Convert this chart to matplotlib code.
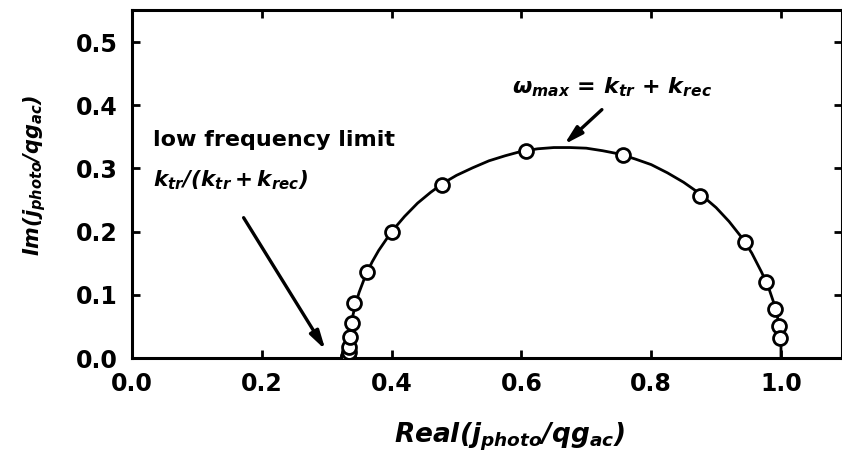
import matplotlib
matplotlib.use("Agg")
import matplotlib.pyplot as plt

# measured data points (Real, Imag)
real_pts = [0.333, 0.333, 0.334, 0.334, 0.336, 0.339, 0.342, 0.362, 0.400, 0.478,
            0.607, 0.756, 0.875, 0.944, 0.977, 0.991, 0.997, 0.999]
imag_pts = [0.001, 0.003, 0.009, 0.018, 0.034, 0.056, 0.087, 0.136, 0.199, 0.273,
            0.328, 0.321, 0.257, 0.184, 0.121, 0.078, 0.050, 0.032]

# fitted line
curve_x = [0.333, 0.334, 0.335, 0.337, 0.340, 0.345, 0.350, 0.360, 0.370, 0.380,
           0.400, 0.420, 0.440, 0.460, 0.480, 0.500, 0.525, 0.550, 0.575, 0.600,
           0.625, 0.650, 0.675, 0.700, 0.725, 0.750, 0.775, 0.800, 0.825, 0.850,
           0.875, 0.900, 0.920, 0.940, 0.955, 0.970, 0.980, 0.988, 0.994, 0.998,
           1.000, 1.000]
curve_y = [0.000, 0.021, 0.033, 0.047, 0.066, 0.087, 0.104, 0.131, 0.152, 0.170,
           0.200, 0.224, 0.245, 0.262, 0.277, 0.289, 0.301, 0.312, 0.320, 0.327,
           0.331, 0.333, 0.333, 0.332, 0.328, 0.323, 0.315, 0.306, 0.293, 0.278,
           0.260, 0.238, 0.216, 0.190, 0.166, 0.136, 0.114, 0.090, 0.068, 0.045,
           0.030, 0.000]

xticks = [0.0, 0.2, 0.4, 0.6, 0.8, 1.0]
yticks = [0.0, 0.1, 0.2, 0.3, 0.4, 0.5]

plt.rcParams['font.family'] = ['DejaVu Sans']
plt.rcParams['mathtext.fontset'] = 'custom'
plt.rcParams['mathtext.rm'] = 'DejaVu Sans:italic'
plt.rcParams['mathtext.it'] = 'DejaVu Sans:italic'
plt.rcParams['mathtext.bf'] = 'DejaVu Sans:bold:italic'

fig = plt.figure(figsize=(8.42, 4.63), dpi=100)
ax = fig.add_axes([132/842, 105/463, 710/842, 347.6/463])

ax.plot(curve_x, curve_y, color='black', lw=2.0, zorder=2)
ax.plot(real_pts, imag_pts, linestyle='none', marker='o', markersize=10,
        markerfacecolor='white', markeredgecolor='black', markeredgewidth=2.0, zorder=3)

ax.set_xlim(0, 1.094)
ax.set_ylim(0, 0.55)
ax.set_xticks(xticks)
ax.set_yticks(yticks)
ax.set_xticklabels([f"{t:.1f}" for t in xticks], fontsize=17, fontweight='bold')
ax.set_yticklabels([f"{t:.1f}" for t in yticks], fontsize=17, fontweight='bold')
ax.tick_params(direction='in', length=6, width=2, top=True, right=True, pad=10)
for s in ax.spines.values():
    s.set_linewidth(2.2)

ax.set_xlabel(r'$\mathbf{Real(j_{photo}/qg_{ac})}$', fontsize=19)
ax.set_ylabel(r'$\mathbf{Im(j_{photo}/qg_{ac})}$', fontsize=15)
ax.xaxis.set_label_coords(0.532, -0.18)
ax.yaxis.set_label_coords(-0.118, 0.526)

ax.text(0.033, 0.335, 'low frequency limit', fontsize=16, fontweight='bold',
        ha='left', va='baseline')
ax.text(0.033, 0.272, r'$\mathbf{k_{tr}/(k_{tr}+k_{rec})}$', fontsize=15.5,
        ha='left', va='baseline')
ax.text(0.585, 0.419, r'$\mathbf{\omega_{max}}$ = $\mathbf{k_{tr}}$ + $\mathbf{k_{rec}}$',
        fontsize=16, fontweight='bold', ha='left', va='baseline')

arrow = dict(arrowstyle='-|>,head_length=1.1,head_width=0.3', lw=2.4, color='black',
             shrinkA=0, shrinkB=0)
ax.annotate('', xy=(0.298, 0.013), xytext=(0.172, 0.222), arrowprops=arrow)
ax.annotate('', xy=(0.666, 0.338), xytext=(0.724, 0.393), arrowprops=arrow)

fig.savefig('out.png', dpi=100)
